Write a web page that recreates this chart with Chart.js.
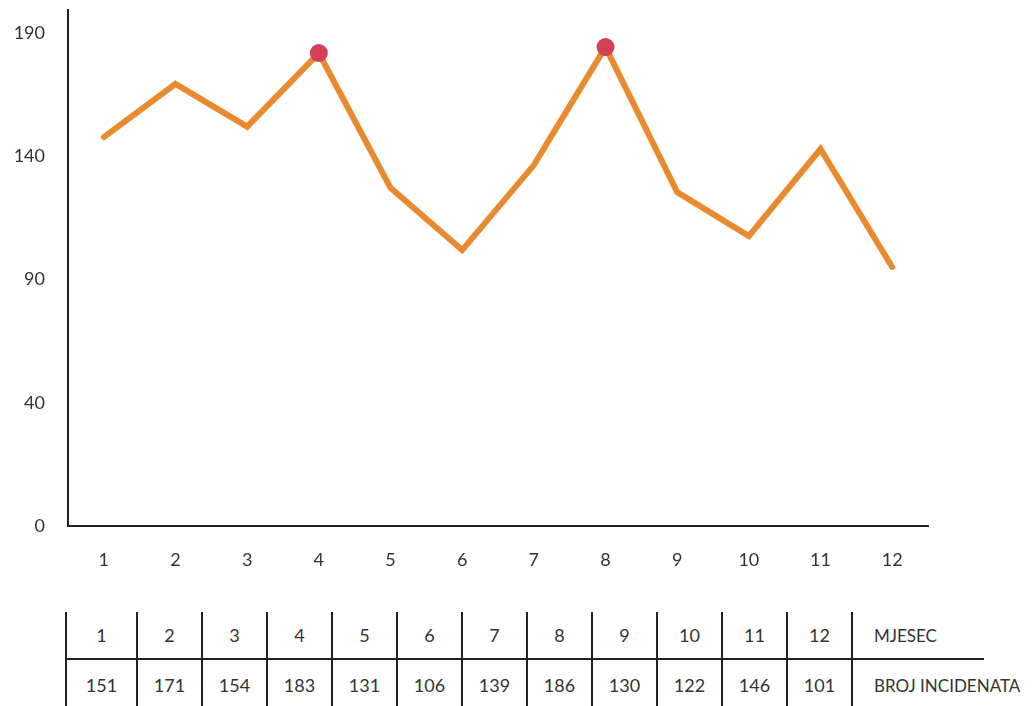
<!DOCTYPE html>
<html>
<head>
<meta charset="utf-8">
<script src="https://cdn.jsdelivr.net/npm/chart.js@4"></script>
<style>
    html, body { margin: 0; padding: 0; background: #fff; }
    body { width: 1032px; height: 706px; overflow: hidden; position: relative; font-family: Lato, sans-serif; color: #333; }
    #wrap { position: absolute; left: 0; top: 0; width: 1032px; height: 600px; }
    #incidentTable { position: absolute; left: 65px; top: 612px; border-collapse: collapse; }
    #incidentTable td { height: 46px; padding: 0; text-align: center; font-size: 18px; border-right: 2px solid #222; }
    #incidentTable td.first { border-left: 2px solid #222; width: 69px; }
    #incidentTable td.num { width: 63px; }
    #incidentTable tr.top td { border-bottom: 2px solid #222; }
    #incidentTable tr.bottom td { height: 50px; }
    #incidentTable td.label { border-right: none; text-align: left; padding-left: 21px; font-size: 17px; width: 110px; }
    #incidentTable td.label div { width: 110px; white-space: nowrap; overflow: visible; }
    #incidentTable tr.bottom td.label { border-bottom: none; }
</style>
</head>
<body>
<div id="wrap"><canvas id="lineChart" width="1032" height="600"></canvas></div>
<table id="incidentTable"></table>

<script>
// months on x axis
const months = ['1', '2', '3', '4', '5', '6', '7', '8', '9', '10', '11', '12'];
// values
const lineValues = [150, 170.5, 154, 182.4, 130.4, 106.4, 139.2, 184.7, 128.8, 111.8, 145.4, 99.9];
// values written in the table under the chart
const tableValues = [151, 171, 154, 183, 131, 106, 139, 186, 130, 122, 146, 101];
// y tick positions and the labels printed there
const tickPositions = [0, 47.5, 95, 142.5, 190];
const tickLabels = ['0', '40', '90', '140', '190'];
// highlighted months (red dots)
const highlighted = [3, 7];
const rowTitles = ['MJESEC', 'BROJ INCIDENATA'];

// build the table below the chart
const table = document.getElementById('incidentTable');
const rows = [months, tableValues];
rows.forEach((row, r) => {
    const tr = document.createElement('tr');
    tr.className = r == 0 ? 'top' : 'bottom';
    row.forEach((v, i) => {
        const td = document.createElement('td');
        td.className = i == 0 ? 'first' : 'num';
        td.innerText = v;
        tr.appendChild(td);
    });
    const label = document.createElement('td');
    label.className = 'label';
    const inner = document.createElement('div');
    inner.innerText = rowTitles[r];
    label.appendChild(inner);
    tr.appendChild(label);
    table.appendChild(tr);
});

const ctx = document.getElementById('lineChart');
new Chart(ctx, {
    type: 'line',
    data: {
        labels: months,
        datasets: [{
            data: lineValues,
            borderColor: '#EA8A2F',
            borderWidth: 6,
            borderCapStyle: 'round',
            tension: 0,
            pointRadius: (c) => highlighted.includes(c.dataIndex) ? 9 : 0,
            pointHoverRadius: (c) => highlighted.includes(c.dataIndex) ? 9 : 0,
            pointBackgroundColor: '#D43F58',
            pointBorderWidth: 0
        }]
    },
    options: {
        responsive: false,
        animation: false,
        layout: { autoPadding: false, padding: { top: 10, right: 104, left: 0, bottom: 0 } },
        plugins: { legend: { display: false }, tooltip: { enabled: false } },
        scales: {
            x: {
                offset: true,
                grid: { display: false, drawTicks: false },
                border: { display: true, color: '#222', width: 2 },
                ticks: { color: '#333', padding: 23, font: { family: 'Lato', size: 18 } },
                afterFit: (scale) => { scale.height = 74; }
            },
            y: {
                min: 0,
                max: 199,
                grid: { display: false, drawTicks: false },
                border: { display: true, color: '#222', width: 2 },
                afterBuildTicks: (scale) => { scale.ticks = tickPositions.map(v => ({ value: v })); },
                ticks: {
                    color: '#333',
                    padding: 23,
                    font: { family: 'Lato', size: 18 },
                    callback: (value, index) => tickLabels[index]
                },
                // fixed width, and no extra room above/below for the tick labels
                afterFit: (scale) => {
                    scale.width = 68;
                    scale.paddingTop = 0;
                    scale.paddingBottom = 0;
                }
            }
        }
    }
});
</script>
</body>
</html>
